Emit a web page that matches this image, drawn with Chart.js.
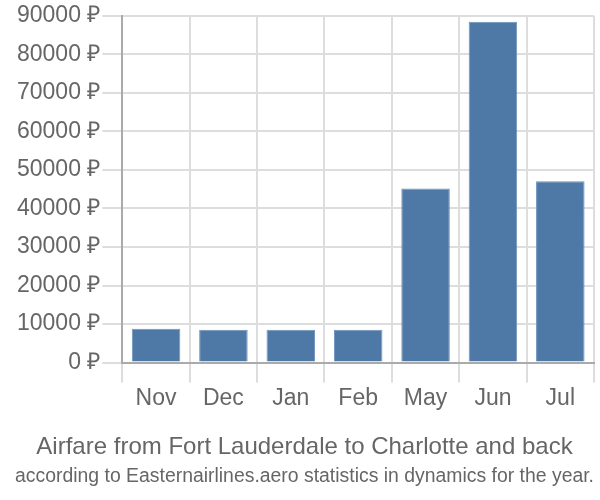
<!DOCTYPE html>
<html lang="en">
<head>
  <meta charset="UTF-8">
  <title>Airfare from Fort Lauderdale to Charlotte</title>
  <style>
    html, body { margin: 0; padding: 0; background: #fff; }
    .chartBox { width: 600px; height: 500px; }
  </style>
</head>
<body>
  <div class="chartBox">
    <canvas id="fareChart"></canvas>
  </div>

  <script src="https://cdn.jsdelivr.net/npm/chart.js"></script>
  <script>
    // Data
    const months = ['Nov', 'Dec', 'Jan', 'Feb', 'May', 'Jun', 'Jul'];
    const fares = [8800, 8550, 8550, 8550, 45150, 88450, 47050];
    const yMax = 90000;
    const yStep = 10000;

    const textColor = '#666';
    const fontFamily = '"Liberation Sans", Arial, sans-serif';

    // with both boxes at the bottom, the title plugin sits lowest,
    // so the source line goes in title and the headline in subtitle
    new Chart(document.getElementById('fareChart'), {
      type: 'bar',
      data: {
        labels: months,
        datasets: [{
          data: fares,
          backgroundColor: '#4e79a7',
          borderColor: '#6d93bd',
          borderWidth: 1
        }]
      },
      options: {
        responsive: true,
        maintainAspectRatio: false,
        animation: false,
        layout: { padding: { top: 4, right: 6, left: 15, bottom: 10 } },
        plugins: {
          legend: { display: false },
          tooltip: { enabled: false },
          subtitle: {
            display: true,
            position: 'bottom',
            text: 'Airfare from Fort Lauderdale to Charlotte and back',
            color: textColor,
            font: { family: fontFamily, size: 24, weight: 'normal' },
            padding: { top: 19, bottom: 1 }
          },
          title: {
            display: true,
            position: 'bottom',
            text: 'according to Easternairlines.aero statistics in dynamics for the year.',
            color: textColor,
            font: { family: fontFamily, size: 20, weight: 'normal' },
            padding: { top: 1, bottom: 2 }
          }
        },
        scales: {
          x: {
            grid: { color: '#ddd', lineWidth: 2, tickLength: 20, offset: true },
            border: { color: '#aaa', width: 2 },
            ticks: { color: textColor, font: { family: fontFamily, size: 23 }, padding: 2 }
          },
          y: {
            min: 0,
            max: yMax,
            grid: { color: '#ddd', lineWidth: 2, tickLength: 20 },
            border: { color: '#aaa', width: 2 },
            ticks: {
              stepSize: yStep,
              color: textColor,
              font: { family: fontFamily, size: 23 },
              padding: 2,
              callback: v => v + ' ₽'
            }
          }
        }
      }
    });
  </script>
</body>
</html>
